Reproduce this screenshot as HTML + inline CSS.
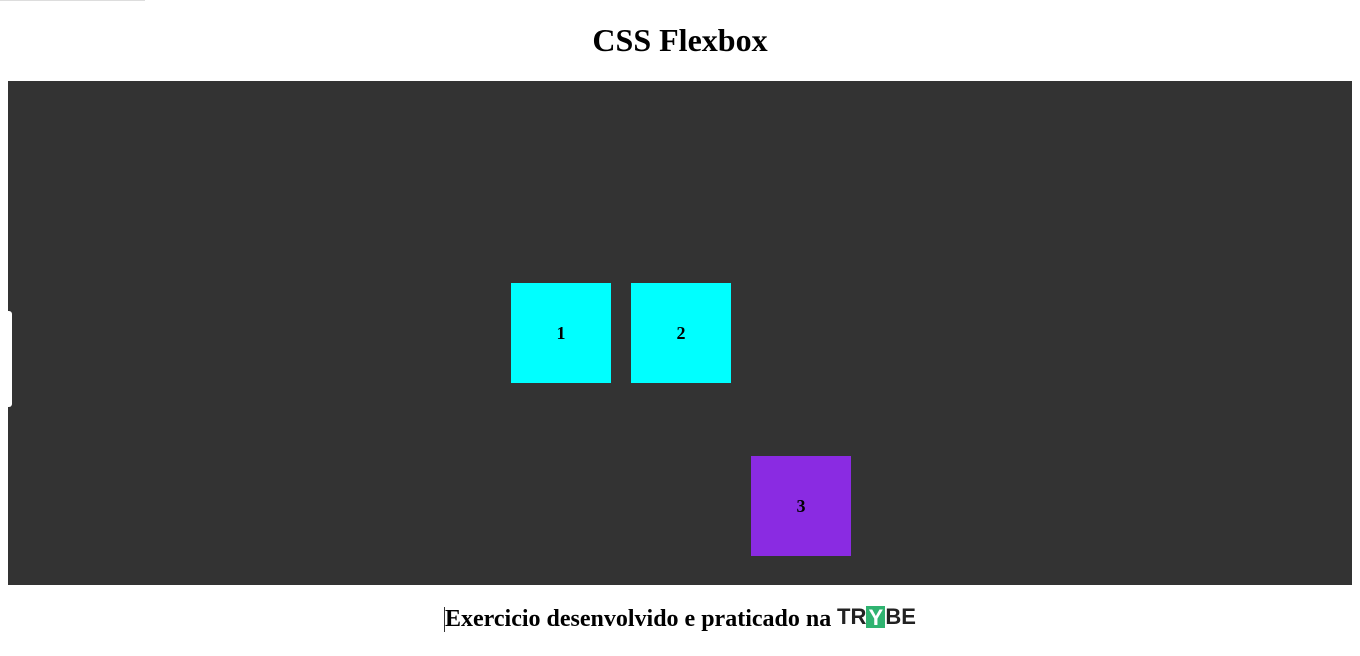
<!DOCTYPE html>
<html><head><meta charset="utf-8"><style>
html,body{margin:0;padding:0;background:#fff;width:1360px;height:656px;overflow:hidden;position:relative;font-family:"Liberation Serif",serif;}
.topline{position:absolute;left:0;top:0;width:145px;height:1px;background:#ddd;}
h1{position:absolute;left:0;width:1360px;top:21px;margin:0;text-align:center;font-size:32px;font-weight:bold;line-height:38px;color:#000;}
.stage{position:absolute;left:8px;top:81px;width:1344px;height:504px;background:#333;}
.stage .notch{position:absolute;left:0;top:230px;width:4px;height:96px;background:#fff;border-radius:0 3px 3px 0;}
.box{position:absolute;width:100px;height:100px;display:flex;align-items:center;justify-content:center;font-weight:bold;font-size:18px;color:#000;}
.c{background:#00ffff;}
.p{background:#8a2be2;}
.foot{position:absolute;left:445px;top:604px;font-size:24px;font-weight:bold;line-height:30px;color:#000;white-space:nowrap;}
.cursor{position:absolute;left:444px;top:607px;width:1px;height:25px;background:#333;}
.logo{position:absolute;left:837px;top:605px;font-family:"Liberation Sans",sans-serif;font-weight:bold;font-size:22px;color:#222;line-height:24px;white-space:nowrap;}
.logo .y{display:inline-block;background:#2fb370;color:#fff;width:19px;text-align:center;height:22px;line-height:23px;vertical-align:top;margin-top:1px;}
</style></head><body>
<div class="topline"></div>
<h1>CSS Flexbox</h1>
<div class="stage"><div class="notch"></div></div>
<div class="box c" style="left:511px;top:283px;">1</div>
<div class="box c" style="left:631px;top:283px;">2</div>
<div class="box p" style="left:751px;top:456px;">3</div>
<div class="cursor"></div>
<div class="foot">Exercicio desenvolvido e praticado na</div>
<div class="logo">TR<span class="y">Y</span>BE</div>
</body></html>
